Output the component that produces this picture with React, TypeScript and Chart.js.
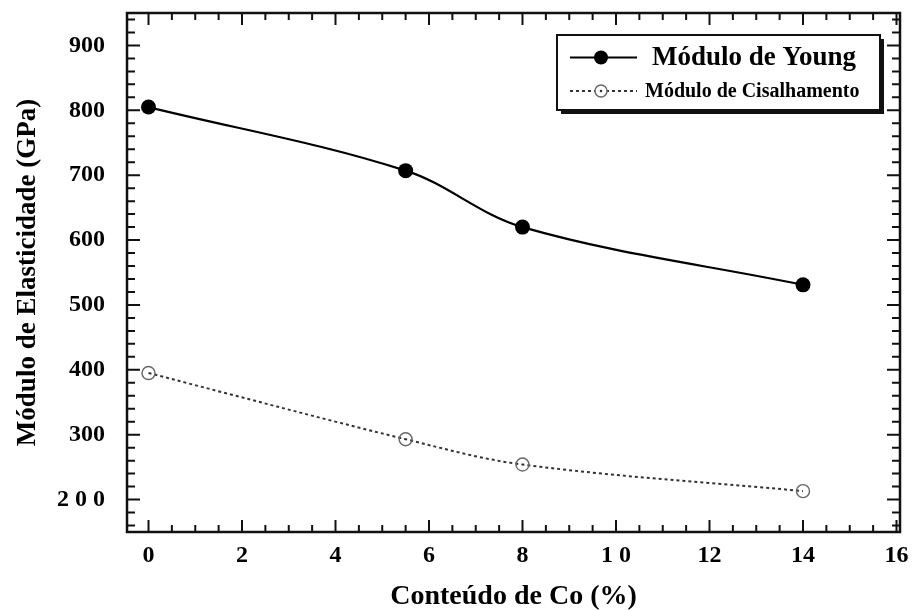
import React, { useEffect, useRef } from 'react';
import { Chart, registerables } from 'chart.js';

Chart.register(...registerables);

const cobaltContent = [0, 5.5, 8, 14];
const youngModulus = [805, 707, 620, 531];
const shearModulus = [395, 293, 254, 213];

const xTickValues = [0, 2, 4, 6, 8, 10, 12, 14, 16];
const xTickLabels = ['0', '2', '4', '6', '8', '1 0', '12', '14', '16'];
const yTickValues = [200, 300, 400, 500, 600, 700, 800, 900];
const yTickLabels = ['2 0 0', '300', '400', '500', '600', '700', '800', '900'];

const seriesNames = ['Módulo de Young', 'Módulo de Cisalhamento'];
const axisTitles = { x: 'Conteúdo de Co (%)', y: 'Módulo de Elasticidade (GPa)' };

const SERIF = '"Liberation Serif", "Times New Roman", serif';

const framePlugin = {
  id: 'frameTicks',
  afterDatasetsDraw(chart: any) {
    const { ctx, chartArea } = chart;
    const { left, right, top, bottom } = chartArea;
    const xs = chart.scales.x;
    const ys = chart.scales.y;
    ctx.save();
    ctx.strokeStyle = '#111';
    ctx.lineWidth = 2.5;
    ctx.strokeRect(left, top, right - left, bottom - top);
    ctx.lineWidth = 2;
    for (let i = 0; i <= 32; i++) {
      const v = i * 0.5;
      const px = xs.getPixelForValue(v);
      if (px < left || px > right + 0.5) continue;
      const len = i % 4 === 0 ? 12 : 7;
      ctx.beginPath();
      ctx.moveTo(px, bottom);
      ctx.lineTo(px, bottom - len);
      ctx.moveTo(px, top);
      ctx.lineTo(px, top + len);
      ctx.stroke();
    }
    for (let v = 160; v <= 940; v += 20) {
      const py = ys.getPixelForValue(v);
      if (py < top || py > bottom) continue;
      const len = v % 100 === 0 ? 13 : 8;
      ctx.beginPath();
      ctx.moveTo(left, py);
      ctx.lineTo(left + len, py);
      ctx.moveTo(right, py);
      ctx.lineTo(right - len, py);
      ctx.stroke();
    }
    ctx.restore();
  },
};

const legendPlugin = {
  id: 'boxLegend',
  afterDraw(chart: any) {
    const { ctx, chartArea } = chart;
    const bx = chartArea.right - 343;
    const by = chartArea.top + 22;
    const bw = 323;
    const bh = 75;
    ctx.save();
    ctx.fillStyle = '#111';
    ctx.fillRect(bx + 4, by + 4, bw, bh);
    ctx.fillStyle = '#fff';
    ctx.fillRect(bx, by, bw, bh);
    ctx.strokeStyle = '#111';
    ctx.lineWidth = 2;
    ctx.strokeRect(bx, by, bw, bh);

    const r1 = by + 22.5;
    ctx.beginPath();
    ctx.lineWidth = 2.2;
    ctx.strokeStyle = '#000';
    ctx.moveTo(bx + 13, r1);
    ctx.lineTo(bx + 80, r1);
    ctx.stroke();
    ctx.beginPath();
    ctx.fillStyle = '#000';
    ctx.arc(bx + 44, r1, 7, 0, Math.PI * 2);
    ctx.fill();
    ctx.font = `bold 27px ${SERIF}`;
    ctx.textBaseline = 'middle';
    ctx.textAlign = 'left';
    ctx.fillText(seriesNames[0], bx + 95, r1 + 1);

    const r2 = by + 56;
    ctx.beginPath();
    ctx.lineWidth = 2;
    ctx.strokeStyle = '#333';
    ctx.setLineDash([3, 3]);
    ctx.moveTo(bx + 13, r2);
    ctx.lineTo(bx + 80, r2);
    ctx.stroke();
    ctx.setLineDash([]);
    ctx.beginPath();
    ctx.fillStyle = '#fff';
    ctx.arc(bx + 44, r2, 6, 0, Math.PI * 2);
    ctx.fill();
    ctx.lineWidth = 1.4;
    ctx.strokeStyle = '#666';
    ctx.stroke();
    ctx.beginPath();
    ctx.fillStyle = '#333';
    ctx.arc(bx + 44, r2, 1.3, 0, Math.PI * 2);
    ctx.fill();
    ctx.font = `bold 20px ${SERIF}`;
    ctx.fillStyle = '#000';
    ctx.fillText(seriesNames[1], bx + 88, r2 + 1);
    ctx.restore();
  },
};

export default function App() {
  const canvasRef = useRef<HTMLCanvasElement | null>(null);

  useEffect(() => {
    if (!canvasRef.current) return;
    const chart = new Chart(canvasRef.current, {
      type: 'line',
      data: {
        datasets: [
          {
            label: seriesNames[0],
            data: cobaltContent.map((x, i) => ({ x, y: youngModulus[i] })),
            borderColor: '#000',
            backgroundColor: '#000',
            borderWidth: 2.2,
            pointRadius: 7.5,
            pointBackgroundColor: '#000',
            pointBorderColor: '#000',
            pointBorderWidth: 0,
            tension: 0.35,
          },
          {
            label: seriesNames[1],
            data: cobaltContent.map((x, i) => ({ x, y: shearModulus[i] })),
            borderColor: '#333',
            borderWidth: 2,
            borderDash: [3, 3],
            pointRadius: 6.5,
            pointBackgroundColor: 'rgba(0,0,0,0)',
            pointBorderColor: '#666',
            pointBorderWidth: 1.4,
            tension: 0.35,
          },
        ],
      },
      options: {
        responsive: false,
        animation: false,
        layout: { padding: { left: 0, top: 13, right: 15, bottom: 0 } },
        plugins: {
          legend: { display: false },
          tooltip: { enabled: false },
        },
        scales: {
          x: {
            type: 'linear',
            min: -0.46,
            max: 16.075,
            grid: { display: false },
            border: { display: false },
            afterBuildTicks: (scale: any) => {
              scale.ticks = xTickValues.map((v) => ({ value: v }));
            },
            afterFit: (scale: any) => {
              scale.height = 78;
              scale.paddingLeft = 0;
              scale.paddingRight = 0;
            },
            ticks: {
              autoSkip: false,
              maxRotation: 0,
              padding: 1,
              color: '#000',
              font: { family: SERIF, size: 24, weight: 'bold' },
              callback: (v: any) => {
                const i = xTickValues.indexOf(Number(v));
                return i >= 0 ? xTickLabels[i] : '';
              },
            },
            title: {
              display: true,
              text: axisTitles.x,
              color: '#000',
              font: { family: SERIF, size: 28, weight: 'bold', lineHeight: 0.95 },
              padding: { top: 0, bottom: 0 },
            },
          },
          y: {
            type: 'linear',
            min: 150,
            max: 950,
            grid: { display: false },
            border: { display: false },
            afterBuildTicks: (scale: any) => {
              scale.ticks = yTickValues.map((v) => ({ value: v }));
            },
            afterFit: (scale: any) => {
              scale.width = 127;
              scale.paddingTop = 0;
              scale.paddingBottom = 0;
            },
            ticks: {
              autoSkip: false,
              padding: 14,
              color: '#000',
              font: { family: SERIF, size: 24, weight: 'bold' },
              callback: (v: any) => {
                const i = yTickValues.indexOf(Number(v));
                return i >= 0 ? yTickLabels[i] : '';
              },
            },
            title: {
              display: true,
              text: axisTitles.y,
              color: '#000',
              font: { family: SERIF, size: 27, weight: 'bold' },
              padding: { top: 12, bottom: 0 },
            },
          },
        },
      },
      plugins: [framePlugin, legendPlugin],
    });
    return () => chart.destroy();
  }, []);

  return (
    <div style={{ position: 'absolute', left: 0, top: 0, width: 915, height: 610, background: '#fff' }}>
      <canvas ref={canvasRef} width={915} height={610} style={{ display: 'block' }} />
    </div>
  );
}
